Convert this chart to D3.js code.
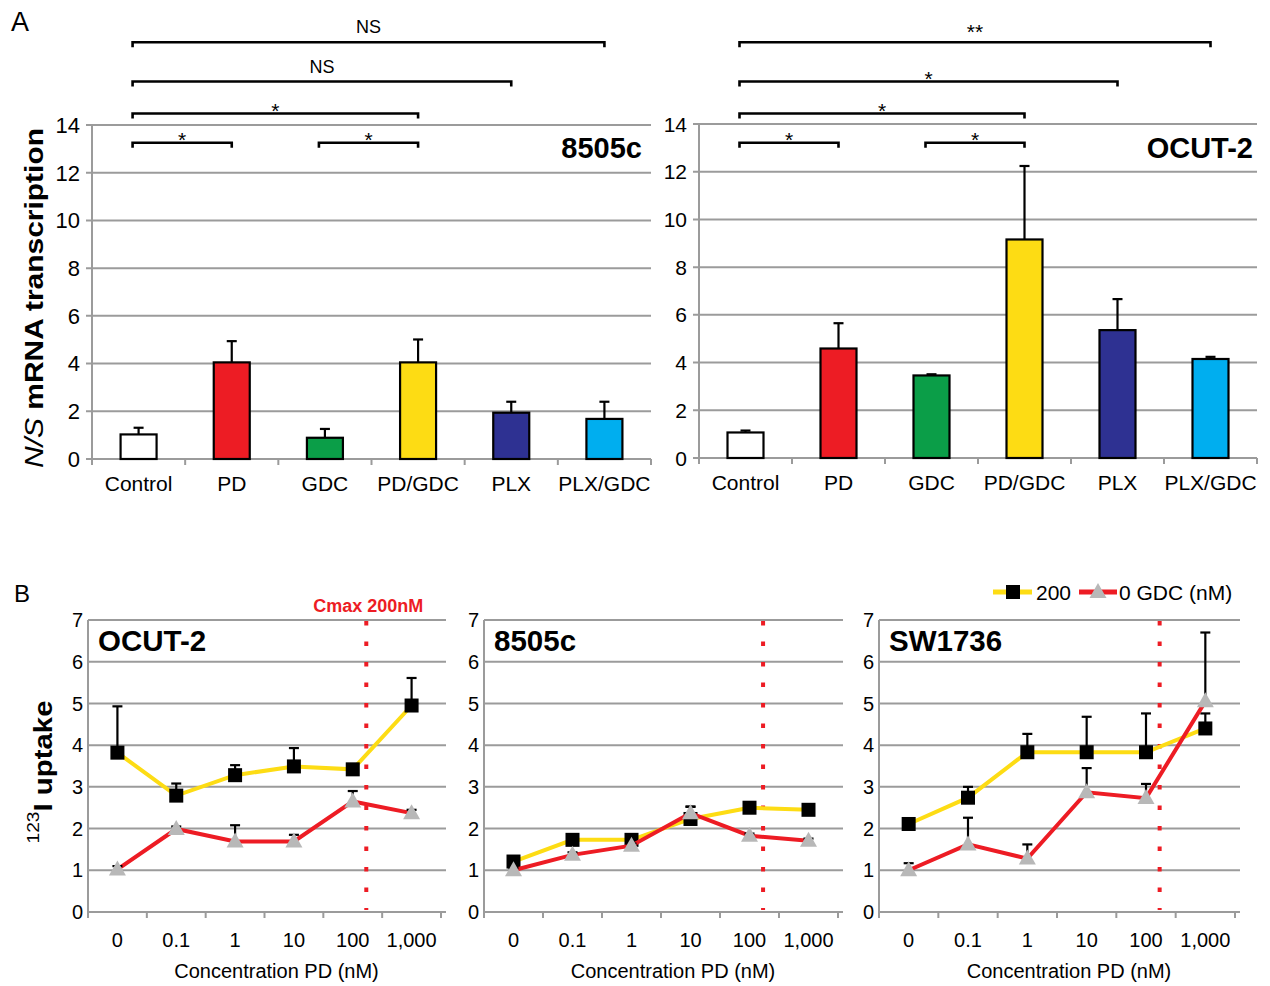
<!DOCTYPE html>
<html>
<head>
<meta charset="utf-8">
<script src="https://cdn.jsdelivr.net/npm/d3@7"></script>
<style>
  body { margin: 0; background: #fff; }
  svg { display: block; font-family: "Liberation Sans", Arial, sans-serif; }
</style>
</head>
<body>
<script>
// ---- panel A: NIS mRNA transcription (fold of control)
const categories = ["Control", "PD", "GDC", "PD/GDC", "PLX", "PLX/GDC"];
const mean8505c = [1.03, 4.05, 0.89, 4.05, 1.94, 1.68];
const sd8505c = [0.28, 0.89, 0.37, 0.96, 0.46, 0.72];
const meanOcutA = [1.07, 4.59, 3.46, 9.16, 5.36, 4.15];
const sdOcutA = [0.08, 1.06, 0.05, 3.08, 1.30, 0.09];
const yTicksA = [0, 2, 4, 6, 8, 10, 12, 14];

// significance brackets, row 0 = lowest
const brackets8505c = [
  { from: "Control", to: "PD", label: "*", row: 0 },
  { from: "GDC", to: "PD/GDC", label: "*", row: 0 },
  { from: "Control", to: "PD/GDC", label: "*", row: 1 },
  { from: "Control", to: "PLX", label: "NS", row: 2 },
  { from: "Control", to: "PLX/GDC", label: "NS", row: 3 }
];
const bracketsOcut = [
  { from: "Control", to: "PD", label: "*", row: 0 },
  { from: "GDC", to: "PD/GDC", label: "*", row: 0 },
  { from: "Control", to: "PD/GDC", label: "*", row: 1 },
  { from: "Control", to: "PLX", label: "*", row: 2 },
  { from: "Control", to: "PLX/GDC", label: "**", row: 3 }
];

// ---- panel B: 123I uptake vs PD concentration
const concLabels = ["0", "0.1", "1", "10", "100", "1,000"];
const yTicksB = [0, 1, 2, 3, 4, 5, 6, 7];

const ocutGdc200 = [3.82, 2.79, 3.28, 3.49, 3.42, 4.95];
const ocutGdc200Sd = [1.11, 0.29, 0.24, 0.44, 0.03, 0.66];
const ocutGdc0 = [1.02, 1.99, 1.69, 1.69, 2.65, 2.37];
const ocutGdc0Sd = [0.08, 0.06, 0.39, 0.16, 0.25, 0.08];

const c8505Gdc200 = [1.21, 1.73, 1.73, 2.23, 2.50, 2.45];
const c8505Gdc200Sd = [0.08, 0.10, 0.08, 0.30, 0.05, 0.05];
const c8505Gdc0 = [1.00, 1.37, 1.59, 2.37, 1.83, 1.71];
const c8505Gdc0Sd = [0.05, 0.06, 0.05, 0.15, 0.05, 0.05];

const swGdc200 = [2.11, 2.74, 3.83, 3.83, 3.83, 4.40];
const swGdc200Sd = [0.05, 0.26, 0.44, 0.85, 0.93, 0.36];
const swGdc0 = [1.00, 1.62, 1.28, 2.87, 2.73, 5.05];
const swGdc0Sd = [0.17, 0.64, 0.34, 0.58, 0.34, 1.65];

// colours
const barColors = ["#ffffff", "#ed1c24", "#0b9e48", "#fddc14", "#2e3192", "#00aeef"];
const grey = "#9b9b9b";
const yellow = "#fddc14";
const red = "#ed1c24";
const triGrey = "#b8b8b8";

const svg = d3.select("body").append("svg")
  .attr("width", 1270)
  .attr("height", 986);

// panel letters
svg.append("text").text("A").attr("x", 11).attr("y", 31)
  .style("font-size", "27px")
svg.append("text").text("B").attr("x", 14).attr("y", 602)
  .style("font-size", "24px")

// ---------- bar panel
const drawBars = (cfg) => {
  const x = d3.scaleBand().domain(categories).range([cfg.left, cfg.right])
  const y = d3.scaleLinear().domain([0, 14]).range([cfg.bottom, cfg.top])
  const g = svg.append("g")
  const barW = 36

  // gridlines
  g.selectAll(".grid").data(yTicksA.filter(d => d > 0)).join("line")
    .attr("x1", cfg.left - 6).attr("x2", cfg.right)
    .attr("y1", d => y(d)).attr("y2", d => y(d))
    .attr("stroke", grey).attr("stroke-width", 2)

  // axes
  g.append("line").attr("x1", cfg.left).attr("x2", cfg.left)
    .attr("y1", cfg.top).attr("y2", cfg.bottom + 6)
    .attr("stroke", grey).attr("stroke-width", 2)
  g.append("line").attr("x1", cfg.left - 6).attr("x2", cfg.right)
    .attr("y1", y(0)).attr("y2", y(0))
    .attr("stroke", grey).attr("stroke-width", 2)
  g.selectAll(".xtick").data(categories.concat(["end"])).join("line")
    .attr("x1", (d, i) => cfg.left + i * x.bandwidth())
    .attr("x2", (d, i) => cfg.left + i * x.bandwidth())
    .attr("y1", y(0)).attr("y2", y(0) + 6)
    .attr("stroke", grey).attr("stroke-width", 2)

  // y tick labels
  g.selectAll(".ylab").data(yTicksA).join("text")
    .text(d => d)
    .attr("x", cfg.left - 12).attr("y", d => y(d))
    .attr("dy", "0.36em")
    .attr("text-anchor", "end")
    .style("font-size", cfg.tickSize)

  // category labels
  g.selectAll(".xlab").data(categories).join("text")
    .text(d => d)
    .attr("x", d => x(d) + x.bandwidth() / 2)
    .attr("y", cfg.bottom + 32)
    .attr("text-anchor", "middle")
    .style("font-size", "21px")

  // error bars (drawn first, bars cover the lower part)
  const eg = g.append("g").attr("stroke", "#000").attr("stroke-width", 2.2)
  categories.forEach((c, i) => {
    const cx = x(c) + x.bandwidth() / 2
    const top = y(cfg.mean[i] + cfg.sd[i])
    eg.append("line").attr("x1", cx).attr("x2", cx)
      .attr("y1", y(cfg.mean[i])).attr("y2", top)
    eg.append("line").attr("x1", cx - 5).attr("x2", cx + 5)
      .attr("y1", top).attr("y2", top)
  })

  // bars
  g.selectAll(".bar").data(categories).join("rect")
    .attr("x", d => x(d) + (x.bandwidth() - barW) / 2)
    .attr("width", barW)
    .attr("y", (d, i) => y(cfg.mean[i]))
    .attr("height", (d, i) => y(0) - y(cfg.mean[i]))
    .attr("fill", (d, i) => barColors[i])
    .attr("stroke", "#000").attr("stroke-width", 2.2)

  // significance brackets
  const rowY = [142.7, 113.5, 81.5, 42.3]
  const labelDy = { "*": 4, "**": -3, "NS": -9 }
  cfg.brackets.forEach(b => {
    const x1 = x(b.from) + x.bandwidth() / 2 - 6
    const x2 = x(b.to) + x.bandwidth() / 2
    const by = rowY[b.row]
    g.append("path")
      .attr("d", `M${x1},${by + 5}V${by}H${x2}V${by + 5}`)
      .attr("fill", "none").attr("stroke", "#000").attr("stroke-width", 2.6)
    g.append("text").text(b.label)
      .attr("x", (x1 + x2) / 2).attr("y", by + labelDy[b.label])
      .attr("text-anchor", "middle")
      .style("font-size", b.label === "NS" ? "18px" : "21px")
  })

  // cell line name
  g.append("text").text(cfg.name)
    .attr("x", cfg.nameX).attr("y", 158)
    .attr("text-anchor", "end")
    .style("font-size", "29px").style("font-weight", "bold")
}

drawBars({ left: 92, right: 651, top: 125, bottom: 459, mean: mean8505c, sd: sd8505c,
  brackets: brackets8505c, name: "8505c", nameX: 642, tickSize: "22px" })
drawBars({ left: 699, right: 1257, top: 124, bottom: 458, mean: meanOcutA, sd: sdOcutA,
  brackets: bracketsOcut, name: "OCUT-2", nameX: 1253, tickSize: "21px" })

// y label panel A
const yl = svg.append("text")
  .attr("transform", "translate(43,298) rotate(-90)")
  .attr("text-anchor", "middle")
  .attr("textLength", 340)
  .attr("lengthAdjust", "spacingAndGlyphs")
  .style("font-size", "26px")
yl.append("tspan").text("N/S ").style("font-style", "italic")
yl.append("tspan").text("mRNA transcription").style("font-weight", "bold")

// ---------- line panels
const drawLines = (cfg) => {
  const x = d3.scaleBand().domain(concLabels).range([cfg.left, cfg.right])
  const y = d3.scaleLinear().domain([0, 7]).range([912, 620])
  const cx = d => x(d) + x.bandwidth() / 2
  const g = svg.append("g")

  g.selectAll(".grid").data(yTicksB).join("line")
    .attr("x1", cfg.left).attr("x2", cfg.right + 5)
    .attr("y1", d => y(d)).attr("y2", d => y(d))
    .attr("stroke", grey).attr("stroke-width", 2)
  g.append("line").attr("x1", cfg.left).attr("x2", cfg.left)
    .attr("y1", y(7)).attr("y2", y(0) + 5)
    .attr("stroke", grey).attr("stroke-width", 2)
  g.selectAll(".xtick").data(concLabels.concat(["end"])).join("line")
    .attr("x1", (d, i) => cfg.left + i * x.bandwidth())
    .attr("x2", (d, i) => cfg.left + i * x.bandwidth())
    .attr("y1", y(0)).attr("y2", y(0) + 6)
    .attr("stroke", grey).attr("stroke-width", 2)

  g.selectAll(".ylab").data(yTicksB).join("text")
    .text(d => d)
    .attr("x", cfg.left - 5).attr("y", d => y(d))
    .attr("dy", "0.36em").attr("text-anchor", "end")
    .style("font-size", "20px")
  g.selectAll(".xlab").data(concLabels).join("text")
    .text(d => d)
    .attr("x", cx).attr("y", 947)
    .attr("text-anchor", "middle")
    .style("font-size", "20px")
  g.append("text").text("Concentration PD (nM)")
    .attr("x", (cfg.left + cfg.right) / 2 + 12).attr("y", 978)
    .attr("text-anchor", "middle")
    .style("font-size", "20px")

  // Cmax 200 nM, between 100 and 1,000
  const cmaxX = cx("100") + x.bandwidth() * 0.23
  g.append("line").attr("x1", cmaxX).attr("x2", cmaxX)
    .attr("y1", y(7) + 1).attr("y2", y(0) - 2)
    .attr("stroke", red).attr("stroke-width", 4)
    .attr("stroke-dasharray", "4.5,16")

  const line = d3.line().x((d, i) => cx(concLabels[i])).y(d => y(d))

  const series = (vals, sds, colour, marker) => {
    g.append("path").datum(vals).attr("d", line)
      .attr("fill", "none").attr("stroke", colour).attr("stroke-width", 4)
    vals.forEach((v, i) => {
      const px = cx(concLabels[i])
      const top = y(v + sds[i])
      g.append("line").attr("x1", px).attr("x2", px)
        .attr("y1", y(v)).attr("y2", top)
        .attr("stroke", "#000").attr("stroke-width", 2.2)
      g.append("line").attr("x1", px - 5).attr("x2", px + 5)
        .attr("y1", top).attr("y2", top)
        .attr("stroke", "#000").attr("stroke-width", 2.2)
    })
    vals.forEach((v, i) => {
      const px = cx(concLabels[i])
      if (marker === "square") {
        g.append("rect").attr("x", px - 7).attr("y", y(v) - 7)
          .attr("width", 14).attr("height", 14).attr("fill", "#000")
      } else {
        g.append("path")
          .attr("d", `M${px},${y(v) - 9}L${px + 8.5},${y(v) + 6}L${px - 8.5},${y(v) + 6}Z`)
          .attr("fill", triGrey)
      }
    })
  }
  series(cfg.gdc200, cfg.gdc200Sd, yellow, "square")
  series(cfg.gdc0, cfg.gdc0Sd, red, "triangle")

  g.append("text").text(cfg.name)
    .attr("x", cfg.left + 10).attr("y", 651)
    .style("font-size", "29.5px").style("font-weight", "bold")

  if (cfg.cmaxLabel) {
    g.append("text").text("Cmax 200nM")
      .attr("x", cmaxX + 2).attr("y", 612)
      .attr("text-anchor", "middle")
      .attr("fill", red)
      .style("font-size", "18px").style("font-weight", "bold")
  }
}

drawLines({ left: 88, right: 441, name: "OCUT-2", cmaxLabel: true,
  gdc200: ocutGdc200, gdc200Sd: ocutGdc200Sd, gdc0: ocutGdc0, gdc0Sd: ocutGdc0Sd })
drawLines({ left: 484, right: 838, name: "8505c",
  gdc200: c8505Gdc200, gdc200Sd: c8505Gdc200Sd, gdc0: c8505Gdc0, gdc0Sd: c8505Gdc0Sd })
drawLines({ left: 879, right: 1235, name: "SW1736",
  gdc200: swGdc200, gdc200Sd: swGdc200Sd, gdc0: swGdc0, gdc0Sd: swGdc0Sd })

// y label panel B
const ylb = svg.append("text")
  .attr("transform", "translate(47,772) rotate(-90)")
  .attr("text-anchor", "middle")
  .attr("textLength", 143)
  .attr("lengthAdjust", "spacingAndGlyphs")
  .style("font-size", "26px").style("font-weight", "bold")
ylb.append("tspan").text("123").attr("dy", "-0.5em")
  .style("font-size", "17px").style("font-weight", "normal")
ylb.append("tspan").text("I uptake").attr("dy", "0.5em")

// legend
const lg = svg.append("g").attr("transform", "translate(0,592)")
lg.append("line").attr("x1", 993).attr("x2", 1032).attr("stroke", yellow).attr("stroke-width", 5)
lg.append("rect").attr("x", 1006).attr("y", -7).attr("width", 14).attr("height", 14).attr("fill", "#000")
lg.append("text").text("200").attr("x", 1036).attr("y", 7.5).style("font-size", "21px")
lg.append("line").attr("x1", 1079).attr("x2", 1117).attr("stroke", red).attr("stroke-width", 5)
lg.append("path").attr("d", "M1098,-9L1106.5,6L1089.5,6Z").attr("fill", triGrey)
lg.append("text").text("0 GDC (nM)").attr("x", 1119).attr("y", 7.5).style("font-size", "21px")
</script>
</body>
</html>
